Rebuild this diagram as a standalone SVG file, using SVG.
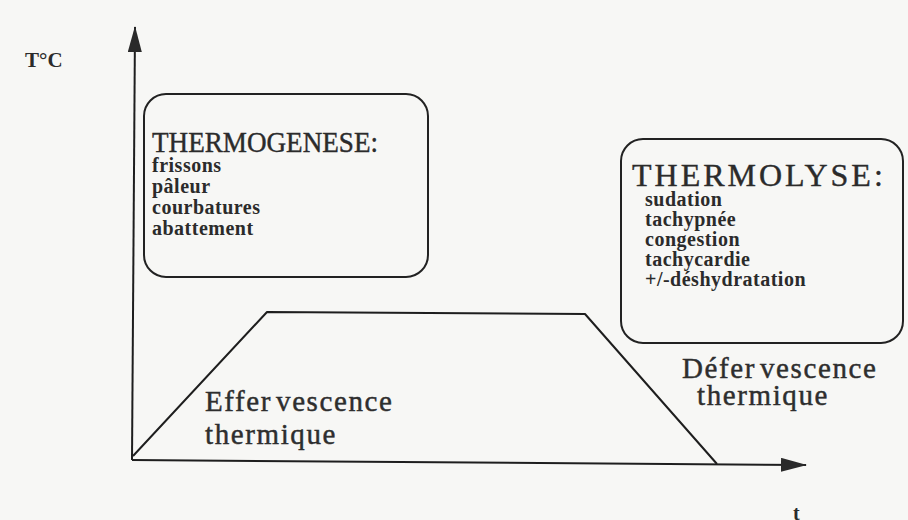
<svg xmlns="http://www.w3.org/2000/svg" width="908" height="520" viewBox="0 0 908 520">
  <style>
    .ink { fill: none; stroke: #1e1e1e; stroke-width: 2; stroke-linejoin: round; }
    .box { fill: none; stroke: #222; stroke-width: 2; }
    .title { font-family: "Liberation Serif", "Times New Roman", serif; fill: #2b2b2b; stroke: #2b2b2b; stroke-width: 0.4; }
    .item { font-family: "Liberation Serif", "Times New Roman", serif; font-weight: bold; font-size: 20px; fill: #2b2b2b; letter-spacing: 0.5px; }
    .phase { font-family: "Liberation Serif", "Times New Roman", serif; font-size: 29px; fill: #2e2e2e; stroke: #2e2e2e; stroke-width: 0.45; letter-spacing: 1.6px; }
    .axislabel { font-family: "Liberation Serif", "Times New Roman", serif; font-weight: bold; fill: #2b2b2b; }
  </style>
  <defs>
    <marker id="arrow" viewBox="0 0 26 14" refX="25" refY="7" markerWidth="26" markerHeight="14" markerUnits="userSpaceOnUse" orient="auto">
      <path d="M0,0 L26,7 L0,14 Z" fill="#2a2a2a"/>
    </marker>
  </defs>

  <rect width="908" height="520" fill="#f7f7f5"/>

  <!-- axes and temperature curve -->
  <g id="connectors">
    <path class="ink" d="M132,460 L135,27" marker-end="url(#arrow)"/>
    <path class="ink" d="M132,460 L806,465" marker-end="url(#arrow)"/>
    <path id="curve" class="ink" d="M133,456 L267,312 L585,314 L717,464"/>
  </g>

  <g id="axis-y-label">
    <text class="axislabel" x="25" y="67" font-size="21">T°C</text>
  </g>
  <g id="axis-x-label">
    <text class="axislabel" x="793" y="520" font-size="20">t</text>
  </g>

  <g id="thermogenese">
    <rect class="box" x="144" y="94" width="284" height="183" rx="22" ry="22"/>
    <text class="title" x="152" y="152" font-size="29" textLength="226" lengthAdjust="spacingAndGlyphs">THERMOGENESE:</text>
    <text class="item" x="152" y="172">frissons</text>
    <text class="item" x="152" y="193">pâleur</text>
    <text class="item" x="152" y="214">courbatures</text>
    <text class="item" x="152" y="235">abattement</text>
  </g>

  <g id="thermolyse">
    <rect class="box" x="621" y="139" width="282" height="204" rx="22" ry="22"/>
    <text class="title" x="632" y="186" font-size="32" letter-spacing="3">THERMOLYSE:</text>
    <text class="item" x="645" y="206">sudation</text>
    <text class="item" x="645" y="226">tachypnée</text>
    <text class="item" x="645" y="246">congestion</text>
    <text class="item" x="645" y="266">tachycardie</text>
    <text class="item" x="645" y="286">+/-déshydratation</text>
  </g>

  <g id="effervescence">
    <text class="phase" x="205" y="411">Effer<tspan dx="4">vescence</tspan></text>
    <text class="phase" x="205" y="444">thermique</text>
  </g>

  <g id="defervescence">
    <text class="phase" x="682" y="378">Défer<tspan dx="4">vescence</tspan></text>
    <text class="phase" x="697" y="405">thermique</text>
  </g>
</svg>
